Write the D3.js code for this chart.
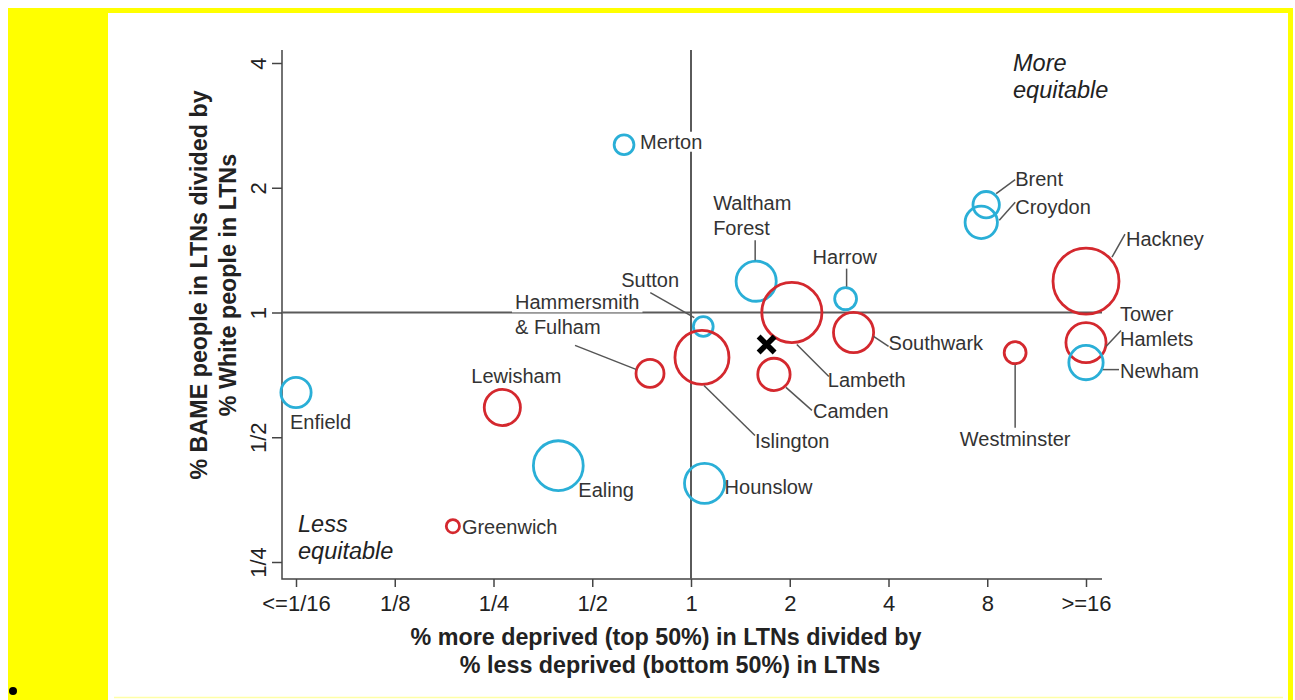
<!DOCTYPE html>
<html>
<head>
<meta charset="utf-8">
<script src="https://cdn.jsdelivr.net/npm/d3@7"></script>
<style>
  body { margin: 0; background: #fff; }
  svg { display: block; }
</style>
</head>
<body>
<svg id="chart" width="1295" height="700"></svg>
<script>
// ---- data -------------------------------------------------------------
const boroughs = ["Merton", "Brent", "Croydon", "Waltham Forest", "Harrow", "Hackney",
  "Lambeth", "Sutton", "Southwark", "Tower Hamlets", "Newham", "Westminster",
  "Islington", "Camden", "Hammersmith & Fulham", "Enfield", "Lewisham", "Ealing",
  "Hounslow", "Greenwich"];
// % more deprived in LTNs / % less deprived in LTNs (clamped to 1/16 .. 16)
const deprivationRatio = [0.625, 7.94, 7.67, 1.58, 2.96, 16, 2.03, 1.09, 3.13, 16,
  16, 9.73, 1.08, 1.79, 0.75, 0.0625, 0.266, 0.394, 1.10, 0.188];
// % BAME people in LTNs / % White people in LTNs
const ethnicityRatio = [2.54, 1.82, 1.65, 1.19, 1.08, 1.19, 1.0, 0.925, 0.895, 0.846,
  0.757, 0.80, 0.779, 0.709, 0.713, 0.641, 0.590, 0.427, 0.387, 0.305];
// relative bubble size (area)
const bubbleSize = [9, 16, 24, 37, 11, 100, 83, 9, 37, 37, 27, 11, 67, 24, 18, 21,
  30, 57, 37, 4];
const area = ["Outer", "Outer", "Outer", "Outer", "Outer", "Inner", "Inner", "Outer",
  "Inner", "Inner", "Outer", "Inner", "Inner", "Inner", "Inner", "Outer", "Inner",
  "Outer", "Outer", "Inner"];
// all of London
const londonOverall = [1.70, 0.837];

const xTicks = [1/16, 1/8, 1/4, 1/2, 1, 2, 4, 8, 16];
const xTickLabels = ["<=1/16", "1/8", "1/4", "1/2", "1", "2", "4", "8", ">=16"];
const yTicks = [1/4, 1/2, 1, 2, 4];
const yTickLabels = ["1/4", "1/2", "1", "2", "4"];

// ---- label placement (offsets from each bubble centre) ---------------
const labelLayout = {
  "Merton":               { dx: 16,   dy: -3,  lines: ["Merton"] },
  "Brent":                { dx: 29,   dy: -26, lines: ["Brent"], leader: [29, -25, 10, -11] },
  "Croydon":              { dx: 34,   dy: -15, lines: ["Croydon"], leader: [34, -20, 18, -2] },
  "Waltham Forest":       { dx: -43,  dy: -78, lines: ["Waltham", "Forest"], leader: [-1, -41, -1, -21] },
  "Harrow":               { dx: -33,  dy: -42, lines: ["Harrow"], leader: [1, -30, 1, -12] },
  "Hackney":              { dx: 40,   dy: -42, lines: ["Hackney"], leader: [39, -47, 26, -24] },
  "Lambeth":              { dx: 36,   dy: 67,  lines: ["Lambeth"], leader: [5, 32, 37, 64] },
  "Sutton":               { dx: -82,  dy: -47, lines: ["Sutton"], leader: [-53, -34, -9, -9] },
  "Southwark":            { dx: 35,   dy: 11,  lines: ["Southwark"], leader: [20, 4, 35, 14] },
  "Tower Hamlets":        { dx: 34,   dy: -29, lines: ["Tower", "Hamlets"], leader: [35, -12, 20, 4] },
  "Newham":               { dx: 34,   dy: 8,   lines: ["Newham"], leader: [17, 7, 33, 7] },
  "Westminster":          { dx: 0,    dy: 86,  lines: ["Westminster"], anchor: "middle", leader: [0, 12, 0, 75] },
  "Islington":            { dx: 53,   dy: 84,  lines: ["Islington"], leader: [2, 28, 53, 78] },
  "Camden":               { dx: 39,   dy: 37,  lines: ["Camden"], leader: [12, 13, 38, 36] },
  "Hammersmith & Fulham": { dx: -135, dy: -71, lines: ["Hammersmith", "& Fulham"], leader: [-75, -28, -14, -4] },
  "Enfield":              { dx: -6,   dy: 29,  lines: ["Enfield"] },
  "Lewisham":             { dx: -31,  dy: -31, lines: ["Lewisham"] },
  "Ealing":               { dx: 20,   dy: 24,  lines: ["Ealing"] },
  "Hounslow":             { dx: 20,   dy: 4,   lines: ["Hounslow"] },
  "Greenwich":            { dx: 9,    dy: 1,   lines: ["Greenwich"] }
};

const FONT = "'Liberation Sans', Arial, Helvetica, sans-serif";
const areaColor = { Inner: "#d4282e", Outer: "#2aafd7" };

const svg = d3.select("#chart");

// page backdrop
svg.append("rect").attr("x", 8).attr("y", 8).attr("width", 1285).attr("height", 692).attr("fill", "#ffff00");
svg.append("rect").attr("x", 108).attr("y", 13).attr("width", 1180).attr("height", 687).attr("fill", "#fff");
svg.append("line").attr("x1", 114).attr("x2", 1283).attr("y1", 697.5).attr("y2", 697.5)
  .attr("stroke", "#ffffa8").attr("stroke-width", 1.5);
svg.append("circle").attr("cx", 13).attr("cy", 691).attr("r", 4).attr("fill", "#000");

// ---- scales -----------------------------------------------------------
const frame = { left: 282, right: 1102, top: 50, bottom: 579 };
const x = d3.scaleLog().base(2).domain([1/16, 16]).range([296, 1086]);
const y = d3.scaleLog().base(2).domain([1/4, 4]).range([562, 63]);
const r = d3.scaleSqrt().domain([0, 100]).range([0, 33]);

const rows = boroughs.map((name, i) => ({
  name, dx: deprivationRatio[i], ey: ethnicityRatio[i], size: bubbleSize[i], area: area[i]
}));

// ---- axes -------------------------------------------------------------
const xAxis = d3.axisBottom(x).tickValues(xTicks)
  .tickFormat((d, i) => xTickLabels[i]).tickSize(8).tickPadding(8);
const gx = svg.append("g").attr("transform", `translate(0,${frame.bottom})`).call(xAxis);
gx.select(".domain").remove();
gx.selectAll(".tick line").attr("stroke", "#444").attr("stroke-width", 1.5);
gx.selectAll(".tick text").attr("font-size", 22).attr("font-family", FONT).attr("fill", "#222");

const yAxis = d3.axisLeft(y).tickValues(yTicks)
  .tickFormat((d, i) => yTickLabels[i]).tickSize(10);
const gy = svg.append("g").attr("transform", `translate(${frame.left},0)`).call(yAxis);
gy.select(".domain").remove();
gy.selectAll(".tick line").attr("stroke", "#444").attr("stroke-width", 1.5);
gy.selectAll(".tick text")
  .attr("x", 0).attr("dy", null)
  .attr("text-anchor", "middle").attr("dominant-baseline", "central")
  .attr("transform", "translate(-24,0) rotate(-90)")
  .attr("font-size", 22).attr("font-family", FONT).attr("fill", "#222");

// L-shaped frame
svg.append("path")
  .attr("d", `M${frame.left},${frame.top}V${frame.bottom}H${frame.right}`)
  .attr("fill", "none").attr("stroke", "#444").attr("stroke-width", 1.5);

// parity reference lines
svg.append("line").attr("x1", x(1)).attr("x2", x(1)).attr("y1", frame.top).attr("y2", frame.bottom)
  .attr("stroke", "#5a5a5a").attr("stroke-width", 2);
svg.append("line").attr("x1", frame.left).attr("x2", frame.right).attr("y1", y(1)).attr("y2", y(1))
  .attr("stroke", "#5a5a5a").attr("stroke-width", 2);

// ---- axis titles --------------------------------------------------------
const xTitle = svg.append("text").attr("font-family", FONT).attr("font-size", 23.3)
  .attr("fill", "#222").attr("text-anchor", "middle").attr("font-weight", "bold");
xTitle.append("tspan").attr("x", 666).attr("y", 645).text("% more deprived (top 50%) in LTNs divided by");
xTitle.append("tspan").attr("x", 670).attr("y", 673).text("% less deprived (bottom 50%) in LTNs");

const yTitle = svg.append("text").attr("font-family", FONT).attr("font-size", 23.3)
  .attr("fill", "#222").attr("text-anchor", "middle").attr("font-weight", "bold")
  .attr("transform", "rotate(-90)");
const yl1 = yTitle.append("tspan").attr("x", -285).attr("y", 207);
yl1.append("tspan").text("% ");
yl1.append("tspan").attr("font-weight", "bold").text("BAME");
yl1.append("tspan").text(" people in LTNs divided by");
yTitle.append("tspan").attr("x", -285).attr("y", 236).text("% White people in LTNs");

// corner notes
const notes = [
  { x: 1013, y: 63, lines: ["More", "equitable"] },
  { x: 298, y: 524, lines: ["Less", "equitable"] }
];
notes.forEach(n => {
  n.lines.forEach((t, k) => {
    svg.append("text").attr("x", n.x).attr("y", n.y + k * 27)
      .attr("dominant-baseline", "central").attr("font-family", FONT)
      .attr("font-size", 23.5).attr("font-style", "italic").attr("fill", "#222").text(t);
  });
});

// ---- labels, bubbles, leaders -----------------------------------------
const labelBg = svg.append("g");
const bubbles = svg.append("g");
const leaders = svg.append("g");
const labels = svg.append("g");

bubbles.selectAll("circle").data(rows).join("circle")
  .attr("cx", d => x(d.dx)).attr("cy", d => y(d.ey)).attr("r", d => r(d.size))
  .attr("fill", "none").attr("stroke", d => areaColor[d.area]).attr("stroke-width", 2.8);

rows.forEach(d => {
  const L = labelLayout[d.name];
  const cx = x(d.dx), cy = y(d.ey);
  if (L.leader) {
    const [a, b, c, e] = L.leader;
    leaders.append("line").attr("x1", cx + a).attr("y1", cy + b).attr("x2", cx + c).attr("y2", cy + e)
      .attr("stroke", "#555").attr("stroke-width", 1.5);
  }
  L.lines.forEach((t, k) => {
    const tx = labels.append("text")
      .attr("x", cx + L.dx).attr("y", cy + L.dy + k * 25)
      .attr("dominant-baseline", "central")
      .attr("text-anchor", L.anchor || "start")
      .attr("font-family", FONT).attr("font-size", 20).attr("fill", "#333").text(t);
    const bb = tx.node().getBBox();
    labelBg.append("rect").attr("x", bb.x - 3).attr("y", bb.y + 1)
      .attr("width", bb.width + 6).attr("height", bb.height - 2).attr("fill", "#fff");
  });
});

// overall London marker
svg.append("path")
  .attr("transform", `translate(${x(londonOverall[0])},${y(londonOverall[1])})`)
  .attr("d", d3.symbol().type(d3.symbolX).size(169)())
  .attr("fill", "none").attr("stroke", "#000").attr("stroke-width", 5.5);
</script>
</body>
</html>
